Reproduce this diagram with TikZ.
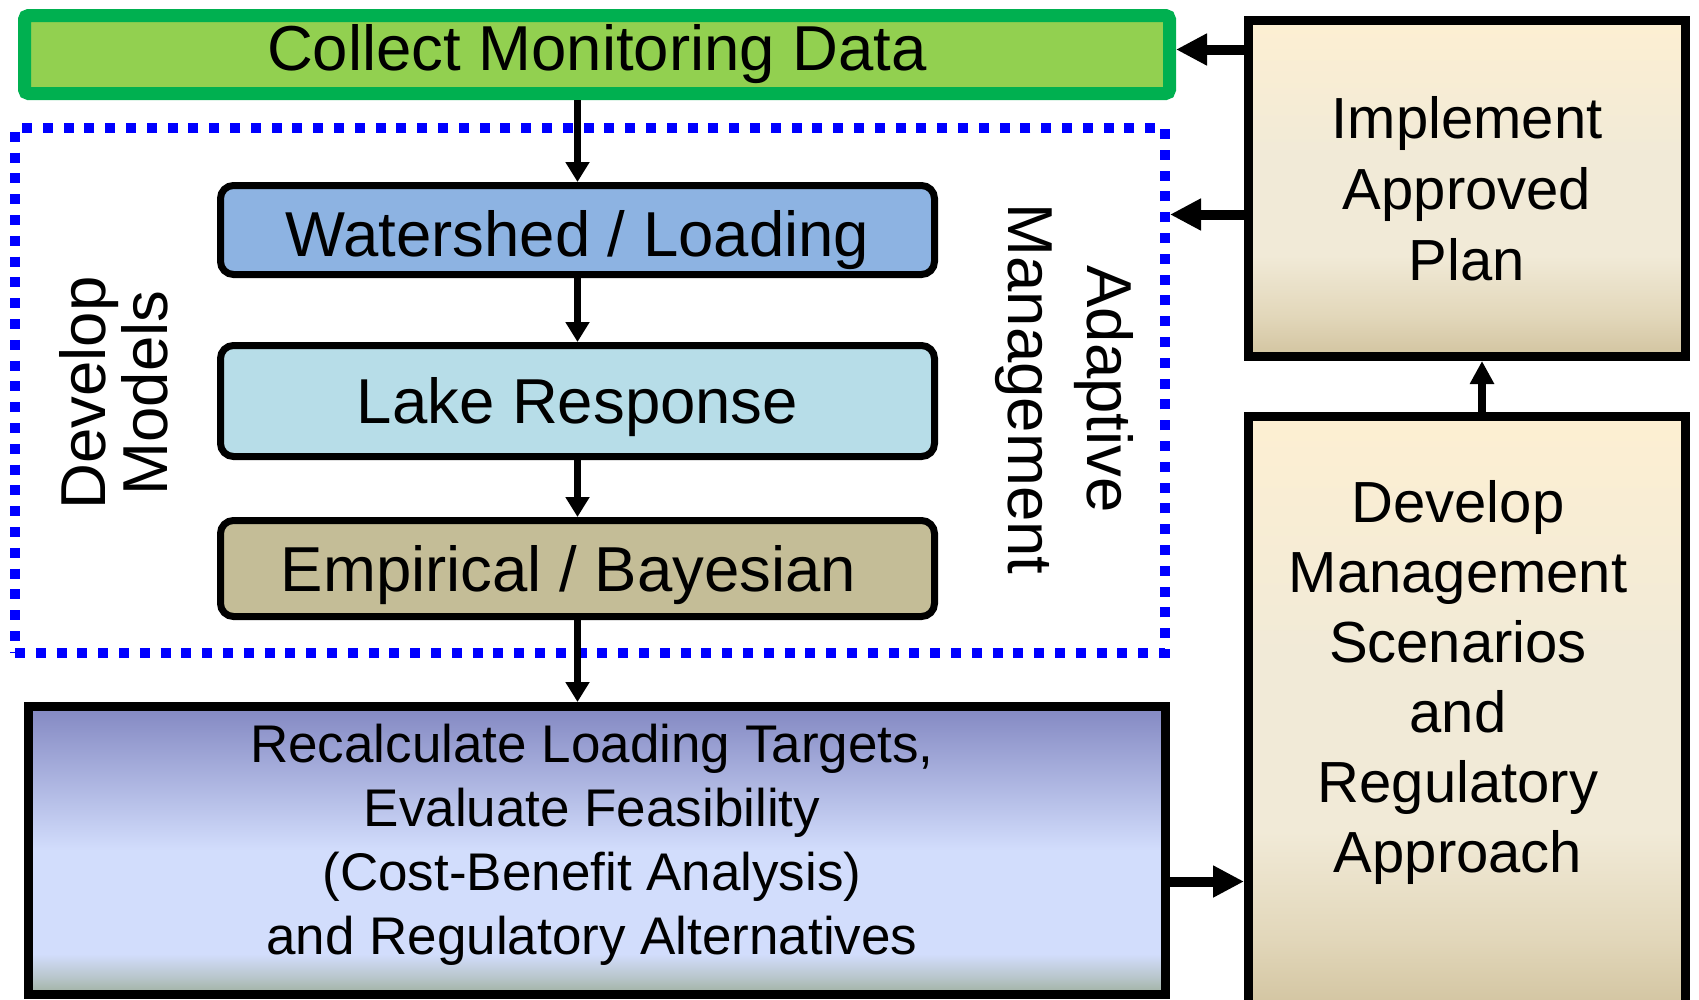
\documentclass[tikz,border=0pt]{standalone}
\usepackage{fontspec}
\setmainfont{Liberation Sans}
\usetikzlibrary{arrows.meta,calc}
\definecolor{grfill}{HTML}{92D050}
\definecolor{grline}{HTML}{00B050}
\definecolor{wsfill}{HTML}{8DB3E2}
\definecolor{lkfill}{HTML}{B7DDE8}
\definecolor{emfill}{HTML}{C4BD97}
\definecolor{tanT}{HTML}{FDEFD2}
\definecolor{tanM}{HTML}{F1EAD7}
\definecolor{tanN}{HTML}{E2D7BA}
\definecolor{tanB}{HTML}{D2C4A0}
\definecolor{recT}{HTML}{8388C2}
\definecolor{recL}{HTML}{D2DDFC}
\definecolor{recG}{HTML}{B8C6CB}
\definecolor{recB}{HTML}{9FB09F}
\definecolor{amblue}{HTML}{0000FF}
\pgfdeclareverticalshading{tanshade}{100bp}{color(0bp)=(tanB); color(25bp)=(tanB); color(31bp)=(tanN); color(40bp)=(tanM); color(55bp)=(tanM); color(75bp)=(tanT); color(100bp)=(tanT)}
\pgfdeclareverticalshading{recshade}{100bp}{color(0bp)=(recB); color(25bp)=(recB); color(28bp)=(recG); color(32bp)=(recL); color(50bp)=(recL); color(75bp)=(recT); color(100bp)=(recT)}
\begin{document}
\begin{tikzpicture}[x=1pt,y=-1pt,
  mainfont/.style={font=\fontsize{63.5}{73}\selectfont},
  modelbox/.style={draw=black, line width=7pt, rounded corners=13pt, minimum width=714pt, inner sep=0pt, text depth=0pt, mainfont},
  tanbox/.style={draw=black, line width=9pt, shading=tanshade, minimum width=437pt, inner sep=0pt, align=center, font=\fontsize{58}{71}\selectfont},
  arr/.style={line width=7pt, -{Triangle[length=20pt,width=23pt]}},
  uparr/.style={line width=8pt, -{Triangle[length=23pt,width=23pt]}},
  bigarr/.style={line width=10pt, -{Triangle[length=31pt,width=30pt]}}]
\useasboundingbox (0,0) rectangle (1699,999);
% adaptive management dotted frame
\node[draw=amblue, line width=10pt, dash pattern=on 10pt off 10.8pt, minimum width=1150pt, minimum height=525pt, inner sep=0pt] (am) at (590,390.5) {};
% top green box
\node[draw=grline, fill=grfill, line width=13pt, rounded corners=4pt, minimum width=1145pt, minimum height=78pt, inner sep=0pt, mainfont] (collect) at (597,54.5) {Collect Monitoring Data};
% model boxes
\node[modelbox, fill=wsfill, minimum height=89pt, text height=53pt] (ws) at (577.5,230) {Watershed / Loading};
\node[modelbox, fill=lkfill, minimum height=111pt, text height=45pt] (lake) at (577.5,401) {Lake Response};
\node[modelbox, fill=emfill, minimum height=96pt, text height=45pt] (emp) at (577.5,568.5) {\hspace*{-18pt}Empirical / Bayesian};
% side labels
\node[rotate=90, align=center, font=\fontsize{63.5}{62}\selectfont] (devmodels) at (114,393) {Develop\\Models};
\node[rotate=-90, align=center, font=\fontsize{63.5}{79}\selectfont] (adapt) at (1064,389) {Adaptive\\Management};
% recalculate box
\node[draw=black, line width=9pt, shading=recshade, minimum width=1137pt, minimum height=288pt, inner sep=0pt] (recalc) at (597,850.5) {};
\node[align=center, font=\fontsize{53}{64}\selectfont, inner sep=0pt] (recalctext) at (592,845) {Recalculate Loading Targets,\\Evaluate Feasibility\\(Cost-Benefit Analysis)\\and Regulatory Alternatives};
% right boxes
\node[tanbox, minimum height=336pt] (impl) at (1467,188.5) {Implement\\Approved\\Plan};
\node[tanbox, minimum height=593pt] (dev) at (1467,713) {};
\node[align=center, font=\fontsize{58}{70}\selectfont, inner sep=0pt] (devtext) at (1458,682) {Develop\\Management\\Scenarios\\and\\Regulatory\\Approach};
% connectors
\draw[arr] (collect.south -| ws.north) -- (ws.north);
\draw[arr] (ws.south) -- (lake.north);
\draw[arr] (lake.south) -- (emp.north);
\draw[arr] (emp.south) -- (emp.south |- recalc.north);
\draw[bigarr] ([yshift=5pt]impl.west |- collect.east) -- ([yshift=5pt]collect.east);
\draw[bigarr] ([yshift=-26pt]impl.west) -- ([yshift=-26pt]impl.west -| am.east);
\draw[bigarr] ([yshift=-31pt]recalc.east) -- ([yshift=-31pt]recalc.east -| dev.west);
\draw[uparr] ([xshift=15pt]dev.north) -- ([xshift=15pt]impl.south);
\end{tikzpicture}
\end{document}
